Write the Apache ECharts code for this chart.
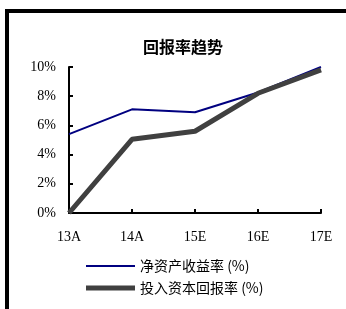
<!DOCTYPE html>
<html><head><meta charset="utf-8">
<script src="https://cdn.jsdelivr.net/npm/echarts@6/dist/echarts.min.js"></script>
<style>html,body{margin:0;padding:0;background:#fff}#c{width:346px;height:309px}</style>
</head><body><div id="c"></div>
<script>
const categories = ['13A','14A','15E','16E','17E'];
const roe = [5.4, 7.1, 6.9, 8.25, 10.0];
const roic = [0, 5.05, 5.6, 8.2, 9.8];
const yTicks = [0, 2, 4, 6, 8, 10];
const seriesNames = ['净资产收益率 (%)', '投入资本回报率 (%)'];
const titleText = '回报率趋势';

const serif = '"Liberation Serif","Times New Roman",serif';
const cjk = '"Noto Sans CJK SC",sans-serif';
const chart = echarts.init(document.getElementById('c'));
chart.setOption({
  animation: false,
  backgroundColor: '#fff',
  title: { text: titleText, left: 178, textAlign: 'center', top: 34,
    textStyle: { fontFamily: cjk, fontSize: 16, fontWeight: 'bold', color: '#000' } },
  graphic: [{ type: 'rect', shape: { x: 7, y: 11, width: 400, height: 400 },
    style: { fill: 'none', stroke: '#000', lineWidth: 4 }, silent: true }],
  legend: [
    { data: [seriesNames[0]], orient: 'vertical', left: 81, top: 254, icon: 'rect',
      itemWidth: 49, itemHeight: 2, itemGap: 6,
      textStyle: { fontFamily: cjk, fontSize: 14, color: '#000' } },
    { data: [seriesNames[1]], orient: 'vertical', left: 81, top: 276, icon: 'rect',
      itemWidth: 49, itemHeight: 5, itemGap: 6,
      textStyle: { fontFamily: cjk, fontSize: 14, color: '#000' } }
  ],
  grid: { left: 69, right: 25, top: 67, bottom: 96 },
  xAxis: { type: 'category', data: categories, boundaryGap: false,
    axisLine: { lineStyle: { color: '#000', width: 2 } },
    axisTick: { inside: true, length: 4, lineStyle: { color: '#000', width: 2 } },
    axisLabel: { fontFamily: serif, fontSize: 14, color: '#000', margin: 17 } },
  yAxis: { type: 'value', min: yTicks[0], max: yTicks[yTicks.length-1], interval: 2,
    splitLine: { show: false },
    axisLine: { show: true, lineStyle: { color: '#000', width: 2 } },
    axisTick: { show: true, inside: true, length: 4, lineStyle: { color: '#000', width: 2 } },
    axisLabel: { formatter: '{value}%', fontFamily: serif, fontSize: 14, color: '#000', margin: 13 } },
  series: [
    { name: seriesNames[0], type: 'line', data: roe, symbol: 'none',
      lineStyle: { color: '#000080', width: 2 }, itemStyle: { color: '#000080' } },
    { name: seriesNames[1], type: 'line', data: roic, symbol: 'none',
      lineStyle: { color: '#404040', width: 5 }, itemStyle: { color: '#404040' } }
  ]
});
</script></body></html>
